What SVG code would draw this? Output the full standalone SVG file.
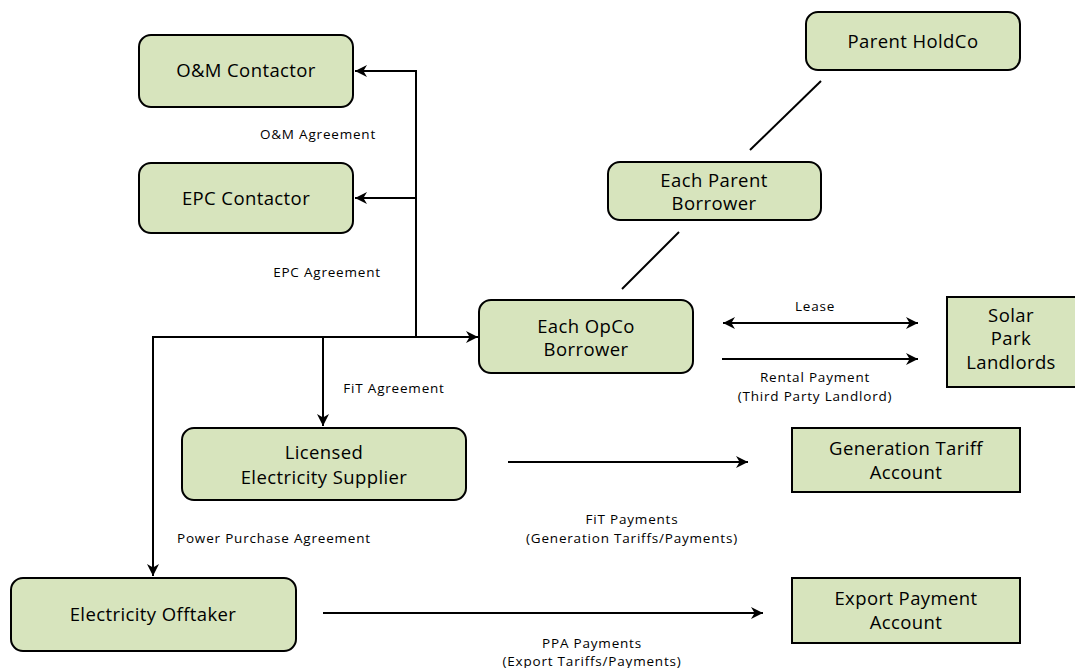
<svg xmlns="http://www.w3.org/2000/svg" width="1075" height="668" viewBox="0 0 1075 668">
<style>
.node{fill:#d7e4bd;stroke:#000;stroke-width:2}
.nt{font-family:"Open Sans","Liberation Sans",Arial,sans-serif;font-size:18.5px;fill:#000;text-anchor:middle;letter-spacing:0.4px}
.lt{font-family:"Open Sans","Liberation Sans",Arial,sans-serif;font-size:13.5px;fill:#000;text-anchor:middle;letter-spacing:0.8px}
.c{stroke:#000;stroke-width:2;fill:none}
</style>
<defs>
<marker id="arr" viewBox="0 0 10 10" refX="10" refY="5" markerWidth="6" markerHeight="6" orient="auto-start-reverse" markerUnits="strokeWidth">
<path d="M0,0 L10,5 L0,10 L3,5 Z" fill="#000"/>
</marker>
</defs>
<rect width="1075" height="668" fill="#fff"/>
<g id="connectors">
<polyline class="c" points="416,336 416,71 355,71" marker-end="url(#arr)"/>
<line class="c" x1="416" y1="198" x2="355" y2="198" marker-end="url(#arr)"/>
<line class="c" x1="153" y1="337" x2="478" y2="337" marker-end="url(#arr)"/>
<line class="c" x1="323" y1="337" x2="323" y2="426" marker-end="url(#arr)"/>
<line class="c" x1="153" y1="336" x2="153" y2="576" marker-end="url(#arr)"/>
<line class="c" x1="821" y1="81" x2="750" y2="150"/>
<line class="c" x1="679" y1="232" x2="622" y2="289"/>
<line class="c" x1="723" y1="323" x2="918" y2="323" marker-start="url(#arr)" marker-end="url(#arr)"/>
<line class="c" x1="722" y1="359" x2="918" y2="359" marker-end="url(#arr)"/>
<line class="c" x1="508" y1="462" x2="748" y2="462" marker-end="url(#arr)"/>
<line class="c" x1="323" y1="613" x2="763" y2="613" marker-end="url(#arr)"/>
<text class="lt" x="318" y="139">O&amp;M Agreement</text>
<text class="lt" x="327" y="277">EPC Agreement</text>
<text class="lt" x="394" y="393">FiT Agreement</text>
<text class="lt" x="274" y="543">Power Purchase  Agreement</text>
<text class="lt" x="815" y="311">Lease</text>
<text class="lt" x="815" y="382">Rental Payment</text>
<text class="lt" x="815" y="401">(Third Party Landlord)</text>
<text class="lt" x="632" y="524">FiT Payments</text>
<text class="lt" x="632" y="543">(Generation Tariffs/Payments)</text>
<text class="lt" x="592" y="648">PPA Payments</text>
<text class="lt" x="592" y="666">(Export Tariffs/Payments)</text>
</g>
<g id="om">
<rect class="node" x="139" y="35" width="214" height="72" rx="12"/>
<text class="nt" x="246" y="77">O&amp;M Contactor</text>
</g>
<g id="epc">
<rect class="node" x="139" y="163" width="214" height="70" rx="12"/>
<text class="nt" x="246" y="205">EPC Contactor</text>
</g>
<g id="holdco">
<rect class="node" x="806" y="12" width="214" height="58" rx="12"/>
<text class="nt" x="913" y="48">Parent HoldCo</text>
</g>
<g id="parent">
<rect class="node" x="608" y="162" width="213" height="58" rx="12"/>
<text class="nt" x="714" y="187">Each Parent</text>
<text class="nt" x="714" y="210">Borrower</text>
</g>
<g id="opco">
<rect class="node" x="479" y="300" width="214" height="73" rx="12"/>
<text class="nt" x="586" y="333">Each OpCo</text>
<text class="nt" x="586" y="356">Borrower</text>
</g>
<g id="landlords">
<rect class="node" x="947" y="297" width="130" height="90"/>
<text class="nt" x="1011" y="322">Solar</text>
<text class="nt" x="1011" y="345">Park</text>
<text class="nt" x="1011" y="369">Landlords</text>
</g>
<g id="supplier">
<rect class="node" x="182" y="428" width="284" height="72" rx="12"/>
<text class="nt" x="324" y="459">Licensed</text>
<text class="nt" x="324" y="484">Electricity Supplier</text>
</g>
<g id="gentariff">
<rect class="node" x="792" y="428" width="228" height="64"/>
<text class="nt" x="906" y="455">Generation Tariff</text>
<text class="nt" x="906" y="479">Account</text>
</g>
<g id="offtaker">
<rect class="node" x="11" y="578" width="285" height="73" rx="12"/>
<text class="nt" x="153" y="621">Electricity Offtaker</text>
</g>
<g id="export">
<rect class="node" x="792" y="578" width="228" height="65"/>
<text class="nt" x="906" y="605">Export Payment</text>
<text class="nt" x="906" y="629">Account</text>
</g>
</svg>
